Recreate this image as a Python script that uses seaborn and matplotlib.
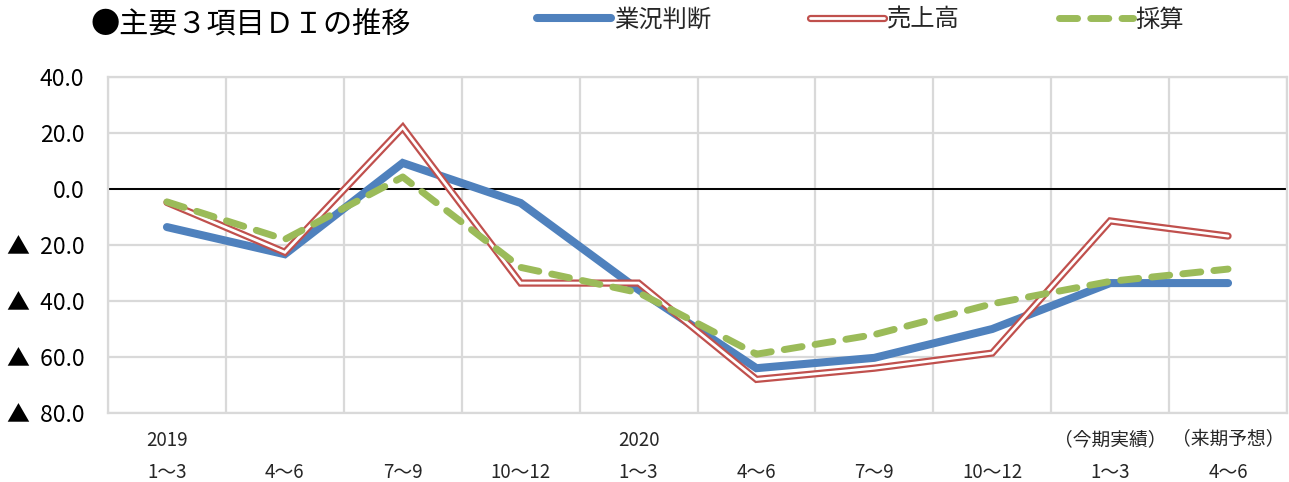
import matplotlib
matplotlib.use("Agg")
import matplotlib.pyplot as plt
import matplotlib.patheffects as pe
import seaborn as sns
import pandas as pd

sns.set_theme(style="white")
plt.rcParams['font.family'] = ['Noto Sans CJK JP', 'DejaVu Sans']

# 四半期ごとのDI
periods = ["2019\n1～3", "\n4～6", "\n7～9", "\n10～12", "2020\n1～3",
           "\n4～6", "\n7～9", "\n10～12", "（今期実績）\n1～3", "（来期予想）\n4～6"]
gyokyo = [-13.6, -23.3, 9.3, -5.0, -36.0, -64.0, -60.3, -50.0, -33.6, -33.6]
uriage = [-4.8, -22.6, 22.0, -33.6, -33.6, -68.0, -64.0, -58.6, -11.4, -16.8]
saisan = [-4.6, -18.0, 4.3, -28.0, -37.0, -59.0, -52.0, -41.0, -33.0, -28.6]

y_ticks = [40, 20, 0, -20, -40, -60, -80]
y_labels = ["40.0", "20.0", "0.0", "▲  20.0", "▲  40.0", "▲  60.0", "▲  80.0"]

df = pd.DataFrame({"pos": range(len(periods)), "業況判断": gyokyo,
                   "売上高": uriage, "採算": saisan})

fig = plt.figure(figsize=(12.89, 4.82), dpi=100)
ax = fig.add_axes([108 / 1289, 1 - 413 / 482, (1287 - 108) / 1289, (413 - 77) / 482])

grid_c = "#d9d9d9"
ax.set_xlim(-0.5, len(periods) - 0.5)
ax.set_ylim(-80, 40)
for y in y_ticks:
    ax.axhline(y, color=grid_c, lw=1.6, zorder=0)
for k in range(len(periods) + 1):
    ax.axvline(k - 0.5, color=grid_c, lw=1.6, zorder=0)
ax.axhline(0, color="black", lw=1.4, zorder=1)

blue = "#4f81bd"
red = "#c0504d"
green = "#9bbb59"

sns.lineplot(data=df, x="pos", y="業況判断", ax=ax, color=blue, lw=5.8,
             solid_capstyle="round", solid_joinstyle="miter", label="業況判断", zorder=3)
sns.lineplot(data=df, x="pos", y="売上高", ax=ax, color="white", lw=2.0,
             solid_capstyle="round", solid_joinstyle="miter", label="売上高", zorder=4,
             path_effects=[pe.Stroke(linewidth=5.2, foreground=red,
                                     capstyle="round", joinstyle="miter"), pe.Normal()])
sns.lineplot(data=df, x="pos", y="採算", ax=ax, color=green, lw=5.0,
             dashes=False, label="採算", zorder=5)
ax.lines[-1].set_linestyle((0, (2.6, 1.9)))
ax.lines[-1].set_dash_capstyle("round")

ax.set_xticks(range(len(periods)))
ax.set_xticklabels(periods, fontsize=13.5, color="#262626")
for t in ax.get_xticklabels():
    t.set_linespacing(1.72)
ax.set_yticks(y_ticks)
ax.set_yticklabels(y_labels, fontsize=16.5, color="black")
ax.tick_params(axis="both", length=0)
ax.tick_params(axis="y", pad=17)
ax.tick_params(axis="x", pad=12)
ax.set_xlabel("")
ax.set_ylabel("")
for s in ax.spines.values():
    s.set_color(grid_c)
    s.set_linewidth(1.6)

handles, labels = ax.get_legend_handles_labels()
ax.get_legend().remove()
fig.legend(handles, labels, ncol=3, loc="center left",
           bbox_to_anchor=(537 / 1289, 1 - 20 / 482), frameon=False,
           fontsize=17.5, handlelength=3.05, handletextpad=0.12, columnspacing=4.07,
           borderaxespad=0, borderpad=0)

fig.text(90 / 1289, 1 - 25 / 482, "●主要３項目ＤＩの推移", fontsize=21,
         va="center", ha="left", color="black")

fig.savefig("out.png", dpi=100)
